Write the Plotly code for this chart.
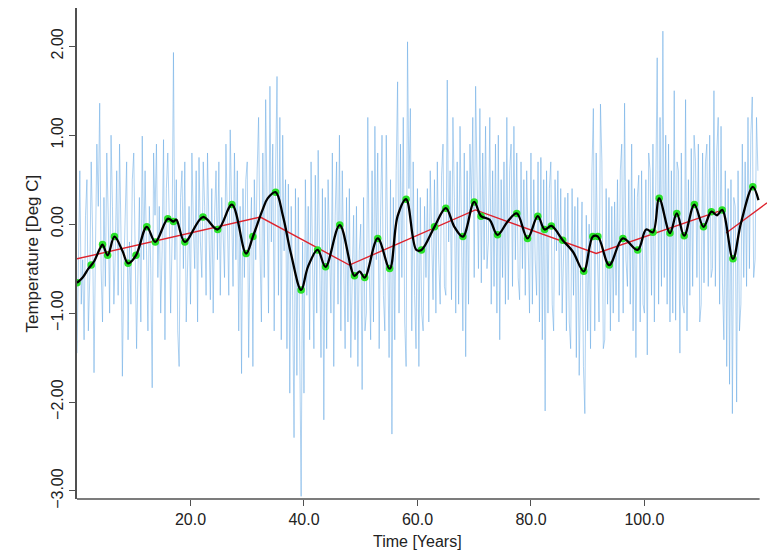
import plotly.graph_objects as go

# ---- data ----
# raw series (4 samples per year, years 0..120)
raw_rows = [
    [-1.45, -0.2, 0.6, -0.9], [-0.4, -1.3, 0.1, 0.5], [-1.2, -0.6, 0.7, -0.1], [-1.67, -0.3, 0.9, 0.2],
    [1.36, -0.5, -1.1, 0.3], [-0.7, 0.8, 0.1, -1.0], [1.0, 0.2, -0.9, -0.3], [0.6, -0.8, 0.9, -0.1],
    [-1.71, -0.5, 0.3, 0.7], [-1.3, -0.2, -0.9, 0.5], [0.8, -0.1, -1.4, -0.5], [0.3, -1.1, 0.99, -0.4],
    [0.6, -0.3, -1.2, 0.2], [-0.5, -1.84, 0.8, 0.1], [0.9, -0.6, 0.2, -1.0], [-0.3, 0.95, -1.3, 0.4],
    [0.8, 0.1, -1.0, -0.2], [1.93, -0.4, 0.5, -1.2], [-1.6, 0.3, 0.6, -0.5], [0.7, -1.1, -0.3, 0.2],
    [-0.9, 0.8, 0.0, -0.5], [0.6, -1.1, 0.75, -0.2], [-0.6, 0.7, 0.2, -0.8], [0.8, -0.3, -0.85, 0.4],
    [-1.0, 0.1, 0.6, -0.4], [0.7, -0.8, 0.3, -0.1], [-0.6, 0.9, 0.1, -0.8], [1.06, 0.3, -0.7, 0.8],
    [-0.4, 0.6, -1.2, 0.2], [-1.68, 0.4, -0.6, 0.5], [0.7, -1.5, -0.2, 0.3], [-1.6, 0.5, -0.4, 0.6],
    [1.2, -0.3, -1.1, 0.8], [-0.6, 1.4, 0.4, -1.0], [1.55, -0.2, 0.9, -1.2], [0.6, 1.66, -0.8, 1.2],
    [-1.3, 1.0, -0.3, 0.5], [-1.4, 0.45, -1.9, 0.2], [-0.8, -2.4, 0.4, -1.7], [0.3, -1.5, -3.06, -0.2],
    [-1.9, 0.5, -0.8, 0.2], [-1.3, 0.7, -0.3, -1.4], [0.55, -1.0, 0.83, -0.6], [-1.5, 0.4, -2.2, 0.3],
    [-1.4, 0.5, -0.2, -1.0], [0.8, -1.6, 0.1, 0.7], [-0.9, 1.0, -1.2, 0.6], [-0.4, -1.4, 0.3, -1.1],
    [0.4, -1.5, -0.6, 0.1], [-1.3, 0.2, -1.6, -0.3], [0.0, -1.86, 0.3, -1.2], [-1.0, 1.2, -0.5, -1.3],
    [0.6, -1.1, 1.1, -0.4], [0.8, -1.4, 0.1, 1.0], [-0.8, -1.2, 1.0, -0.2], [-1.5, 0.5, -2.36, 0.3],
    [-1.3, 0.6, 1.6, -1.0], [0.9, -0.6, 1.2, -1.1], [-1.6, 2.05, 0.4, 1.3], [-1.2, 0.7, -0.8, -1.4],
    [0.4, -1.6, 0.3, -1.0], [-1.2, 0.2, -0.6, 0.4], [-1.1, 0.6, -0.3, -0.85], [0.5, -1.0, 0.7, -0.4],
    [-0.9, 0.55, 0.9, -0.7], [-0.8, 1.62, -0.2, 0.6], [-0.85, 1.2, 0.3, -1.0], [0.7, -0.9, 1.1, -0.4],
    [-1.2, 0.8, -1.49, 0.6], [-0.9, 0.9, 0.2, 1.2], [-0.6, 1.55, 0.5, -0.5], [1.3, -0.66, 0.8, -0.4],
    [1.1, -0.5, -0.2, 1.2], [-0.9, 0.6, -0.7, 0.9], [-1.0, 1.0, -1.3, 0.5], [-0.6, 0.7, -0.9, 1.2],
    [-0.85, 0.6, 0.9, -0.7], [1.1, -0.4, 0.8, -0.6], [-0.85, 0.7, -0.5, 0.5], [-0.8, 0.6, -0.2, -1.0],
    [0.8, -0.9, 0.5, -0.4], [-0.8, 0.7, -1.1, 0.75], [-1.3, 0.5, -2.1, 0.6], [-1.0, 0.4, 0.7, -0.9],
    [-1.2, 0.5, -0.3, 0.6], [-0.8, 0.4, -1.0, -0.2], [0.3, -1.2, 0.35, -1.1], [-1.4, 0.4, -0.8, 0.2],
    [-1.5, 0.3, -1.7, -0.6], [0.25, -1.6, -2.13, 0.1], [-1.2, 0.0, -1.4, 0.6], [1.3, -1.2, 0.8, -0.4],
    [-1.1, 1.35, 0.7, -1.4], [-1.3, 0.4, -0.9, 0.3], [-1.2, 0.2, -1.0, 0.25], [-0.8, 0.5, -1.1, 0.6],
    [0.9, -1.0, 1.36, -0.4], [-0.7, 0.5, -0.9, 0.9], [-1.2, 0.4, -1.5, 0.3], [0.55, -1.1, 0.6, -0.9],
    [-1.0, 0.5, -1.47, 0.8], [0.6, -0.8, 0.9, -1.1], [0.5, 1.87, -0.9, 1.2], [-0.7, 2.17, -0.6, 1.0],
    [-0.9, 0.9, -1.1, 0.6], [-1.0, 1.5, -1.08, 0.7], [0.6, -1.45, 0.8, -0.9], [-1.0, 1.4, -1.2, 0.5],
    [-0.8, 0.85, -0.7, 1.0], [0.7, -0.6, 0.9, -1.1], [-0.9, 0.8, -0.66, 0.7], [0.9, -0.7, 1.0, -0.6],
    [-0.5, 1.5, -0.7, 0.8], [1.2, -0.9, 1.1, -0.66], [-1.3, 0.6, -1.6, 0.4], [-1.8, 0.5, -2.13, 0.3],
    [0.2, -2.0, 0.6, -1.2], [-0.9, 0.9, -0.6, 0.7], [-0.7, 1.2, -0.5, 1.0], [1.43, -0.6, -0.4, 1.2],
    [0.6],
]
raw_values = [v for row in raw_rows for v in row]
raw_years = [i * 0.25 for i in range(len(raw_values))]

# smoothed curve
smooth_years = [0, 1, 2, 3, 4, 4.5, 5.4, 6.6, 8, 9, 10.4, 12.3, 13.8, 16, 17, 17.5, 19, 22.2, 24.8,
                27.3, 29.8, 31, 32.7, 33.6, 35, 36.3, 37.7, 39.5, 40.7, 42.4, 43.8, 46.3, 48.9, 49.8,
                50.7, 53, 55.1, 56.5, 58, 59.8, 60.7, 63, 65, 66.5, 68, 70, 71.2, 72.7, 74.1, 75.9,
                77.5, 79.4, 81.2, 82.4, 83.6, 85.6, 87.4, 89.3, 90.9, 91.8, 93.8, 96.2, 98.8, 100.3,
                101.5, 102.6, 104.5, 105.7, 107, 108.8, 110.4, 111.8, 112.8, 113.7, 115.6, 117, 119.1, 120.1]
smooth_values = [-0.66, -0.6, -0.5, -0.42, -0.28, -0.23, -0.35, -0.14, -0.3, -0.44, -0.35, -0.03, -0.2,
                 0.06, 0.03, 0.05, -0.2, 0.08, -0.06, 0.22, -0.33, -0.14, 0.16, 0.29, 0.36, 0.09, -0.33,
                 -0.74, -0.48, -0.29, -0.48, -0.01, -0.58, -0.53, -0.6, -0.16, -0.5, 0.09, 0.28, -0.29,
                 -0.29, -0.03, 0.18, -0.03, -0.14, 0.25, 0.09, 0.05, -0.12, 0.03, 0.12, -0.16, 0.09,
                 -0.06, -0.02, -0.18, -0.31, -0.53, -0.14, -0.14, -0.46, -0.16, -0.29, -0.06, -0.09,
                 0.29, -0.10, 0.12, -0.13, 0.22, -0.03, 0.14, 0.10, 0.16, -0.39, 0.01, 0.42, 0.27]

# turning points highlighted in green
turn_years = [0, 2.5, 4.5, 5.4, 6.6, 9, 10.4, 12.3, 13.8, 16, 17, 19, 22.2, 24.8, 27.3, 29.8, 31,
              35, 39.5, 42.4, 43.8, 46.3, 48.9, 50.7, 53, 55.1, 58, 60.7, 63, 65, 68, 70, 71.2,
              74.1, 77.5, 79.4, 81.2, 82.4, 83.6, 85.6, 89.3, 90.9, 91.8, 93.8, 96.2, 98.8, 101.5,
              102.6, 104.5, 105.7, 107, 108.8, 110.4, 111.8, 113.7, 115.6, 119.1]
turn_values = [-0.66, -0.46, -0.23, -0.35, -0.14, -0.44, -0.35, -0.03, -0.2, 0.06, 0.03, -0.2, 0.08,
               -0.06, 0.22, -0.33, -0.14, 0.36, -0.74, -0.29, -0.48, -0.01, -0.58, -0.6, -0.16, -0.5,
               0.28, -0.29, -0.03, 0.18, -0.14, 0.25, 0.09, -0.12, 0.12, -0.16, 0.09, -0.06, -0.02,
               -0.18, -0.53, -0.14, -0.14, -0.46, -0.16, -0.29, -0.09, 0.29, -0.10, 0.12, -0.13, 0.22,
               -0.03, 0.14, 0.16, -0.39, 0.42]

# piecewise linear trend (two pieces, with a break near 114)
trend_years_a = [0, 32.3, 48.0, 70.2, 91.5, 113.8]
trend_values_a = [-0.39, 0.08, -0.46, 0.16, -0.33, 0.16]
trend_years_b = [114.4, 121.6]
trend_values_b = [-0.10, 0.24]

x_ticks = [20, 40, 60, 80, 100]
y_ticks = [-3, -2, -1, 0, 1, 2]

FONT = "Liberation Sans, Arial, sans-serif"
AXIS = "#505050"

fig = go.Figure()
fig.add_trace(go.Scatter(x=raw_years, y=raw_values, mode="lines",
                         line=dict(color="rgba(95,165,228,0.72)", width=0.7),
                         hoverinfo="skip", showlegend=False))
fig.add_trace(go.Scatter(x=trend_years_a, y=trend_values_a, mode="lines",
                         line=dict(color="rgb(222,35,45)", width=1.4), showlegend=False))
fig.add_trace(go.Scatter(x=trend_years_b, y=trend_values_b, mode="lines",
                         line=dict(color="rgb(222,35,45)", width=1.4), showlegend=False))
fig.add_trace(go.Scatter(x=turn_years, y=turn_values, mode="markers",
                         marker=dict(color="rgb(40,225,40)", size=7.5), showlegend=False))
fig.add_trace(go.Scatter(x=smooth_years, y=smooth_values, mode="lines",
                         line=dict(color="black", width=2.3, shape="spline", smoothing=1.0),
                         showlegend=False))

fig.update_layout(
    width=767, height=551,
    margin=dict(l=77, r=0, t=8, b=52),
    paper_bgcolor="white", plot_bgcolor="white",
    font=dict(family=FONT, size=16, color="#222"),
    showlegend=False,
    xaxis=dict(range=[0, 121.6], showline=False, showgrid=False, zeroline=False,
               tickmode="array", tickvals=x_ticks, tickformat=".1f",
               ticks="outside", ticklen=6, tickwidth=1.3, tickcolor=AXIS,
               tickfont=dict(family=FONT, size=16, color="#222")),
    yaxis=dict(range=[-3.09, 2.43], showline=True, linecolor=AXIS, linewidth=1.6,
               showgrid=False, zeroline=False,
               tickmode="array", tickvals=y_ticks, tickformat=".2f", tickangle=-90,
               ticks="outside", ticklen=6, tickwidth=1.3, tickcolor=AXIS,
               tickfont=dict(family=FONT, size=16, color="#222")),
    shapes=[dict(type="line", xref="x", yref="paper", x0=0, x1=120.3, y0=0, y1=0,
                 line=dict(color=AXIS, width=1.6))],
    annotations=[
        dict(text="Time [Years]", xref="paper", yref="paper", x=0.494, y=0,
             xanchor="center", yanchor="middle", yshift=-42, showarrow=False,
             font=dict(family=FONT, size=16, color="#222")),
        dict(text="Temperature [Deg C]", xref="paper", yref="paper", x=0, y=0.5,
             xanchor="center", yanchor="middle", xshift=-45, textangle=-90, showarrow=False,
             font=dict(family=FONT, size=17, color="#222")),
    ],
)

fig.write_html("out.html")
